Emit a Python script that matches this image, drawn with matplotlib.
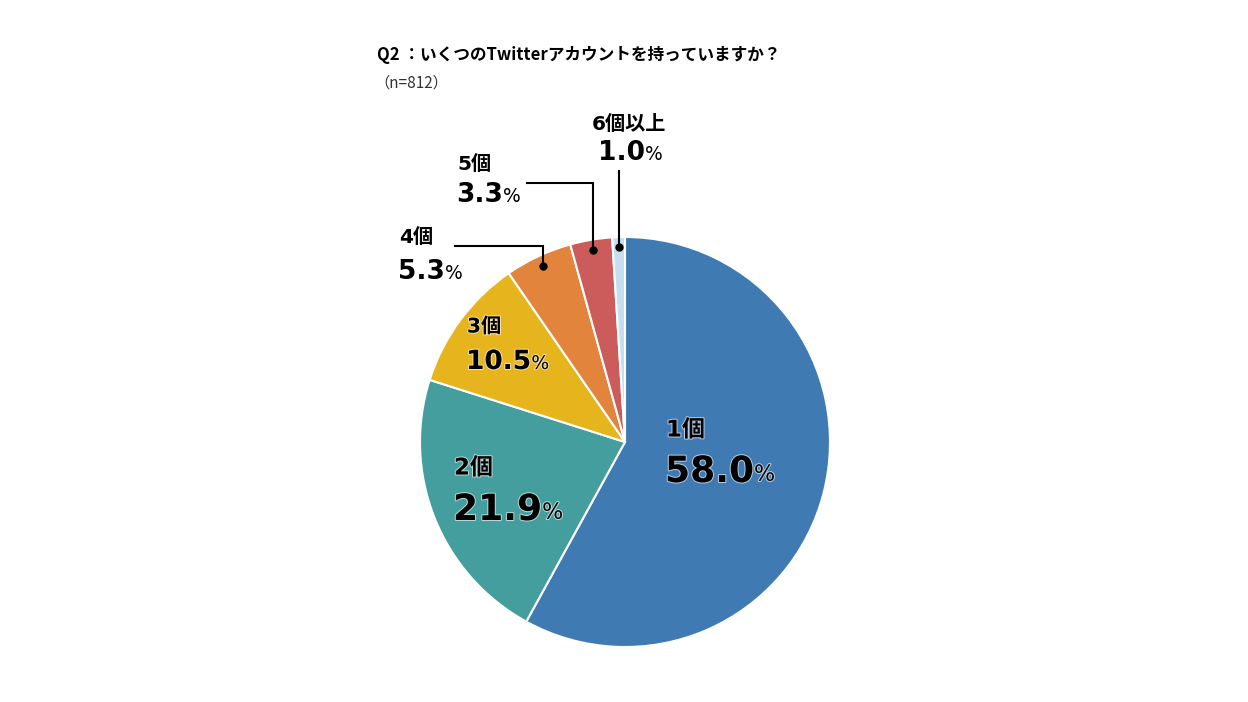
import numpy as np
import matplotlib
matplotlib.use("Agg")
import matplotlib.pyplot as plt
import matplotlib.patheffects as pe

plt.rcParams['font.family'] = ['Noto Sans CJK JP', 'DejaVu Sans']
LABEL_FONT = ['DejaVu Sans', 'Noto Sans CJK JP']

# data
labels = ['1個', '2個', '3個', '4個', '5個', '6個以上']
values = [58.0, 21.9, 10.5, 5.3, 3.3, 1.0]
colors = ['#3f7ab2', '#449e9e', '#e6b41c', '#e3843d', '#cc5b5b', '#c5dff0']
title = 'Q2 ：いくつのTwitterアカウントを持っていますか？'
note = '（n=812）'

W, H = 1248, 702
def Y(p):
    return H - p

fig = plt.figure(figsize=(W / 100, H / 100), dpi=100)
ax = fig.add_axes([0, 0, 1, 1])

cx, cy, R = 625, Y(442), 205
ax.pie(values, colors=colors, startangle=90, counterclock=False,
       center=(cx, cy), radius=R, frame=True,
       wedgeprops=dict(edgecolor='white', linewidth=1.5))
ax.set_xlim(0, W)
ax.set_ylim(0, H)
ax.set_aspect('equal')
ax.axis('off')

ax.text(377, Y(55), title, fontsize=12, fontweight='bold', va='center', ha='left')
ax.text(374, Y(83), note, fontsize=11, va='center', ha='left', color='#333333')

# label layout: (x, name_y, num_y, name_size, num_size, pct_size)
layout = [
    (665, 430, 472, 16.5, 26, 16),
    (453, 468, 510, 16.5, 26, 16),
    (466, 327, 362, 14.5, 19, 13.5),
    (398, 238, 272, 14.5, 19, 13.5),
    (456, 165, 195, 14.5, 19, 13.5),
    (598, 124, 153, 14.5, 19, 13.5),
]
halo = [pe.withStroke(linewidth=1.5, foreground='white', alpha=0.6)]
for i, (x, ny, my, s1, s2, s3) in enumerate(layout):
    fx = halo if i < 3 else []
    nx_ = x + 1 if i != 5 else x - 6
    ax.text(nx_, Y(ny), labels[i], fontsize=s1, fontweight='bold', family=LABEL_FONT,
            va='center', ha='left', path_effects=fx)
    t = ax.text(x, Y(my), f'{values[i]:.1f}', fontsize=s2, fontweight='bold',
                family=LABEL_FONT, va='center', ha='left', path_effects=fx)
    ax.annotate('%', xy=(1, 0), xycoords=t, xytext=(0, 0.23 * s2),
                textcoords='offset points', fontsize=s3, family='DejaVu Sans',
                va='baseline', ha='left', path_effects=fx)

# leader lines for the small slices
cum = np.cumsum([0] + values)
mid = (cum[:-1] + cum[1:]) / 2
ang = np.deg2rad(90 - mid * 3.6)
leaders = {3: (246, 455), 4: (183, 527), 5: (171, None)}
for i, (ytop, xend) in leaders.items():
    dx = cx + 0.95 * R * np.cos(ang[i])
    dy = cy + 0.95 * R * np.sin(ang[i])
    xs = [dx, dx]
    ys = [dy, Y(ytop)]
    if xend is not None:
        xs.append(xend)
        ys.append(Y(ytop))
    ax.plot(xs, ys, color='black', lw=1.5, solid_joinstyle='miter')
    ax.plot(dx, dy, 'o', color='black', ms=5)

fig.savefig('out.png', dpi=100)
